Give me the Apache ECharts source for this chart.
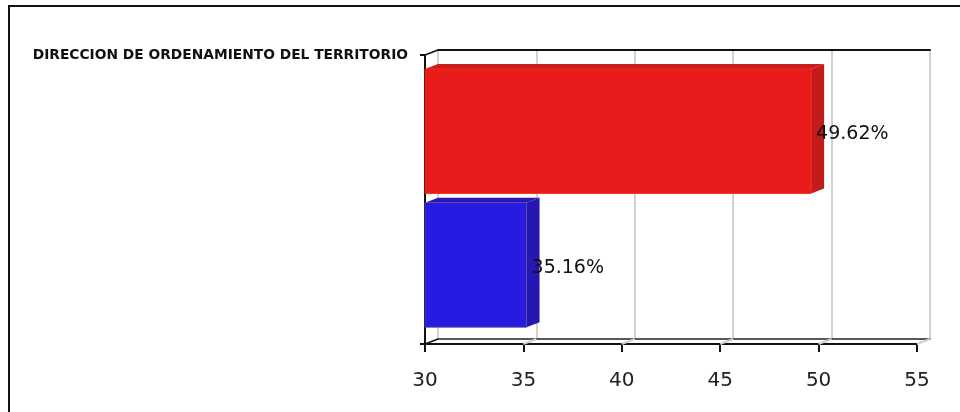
<!DOCTYPE html>
<html>
<head>
<meta charset="utf-8">
<script src="https://cdn.jsdelivr.net/npm/echarts@6/dist/echarts.min.js"></script>
<style>
  html, body { margin: 0; padding: 0; background: #fff; }
  #chart { width: 960px; height: 412px; }
</style>
</head>
<body>
<div id="chart"></div>
<script>
// ---- data ----
const categories = ['DIRECCION DE ORDENAMIENTO DEL TERRITORIO'];
const seriesRed = [49.62];
const seriesBlue = [35.16];
const xTicks = [30, 35, 40, 45, 50, 55];

// ---- layout / style constants ----
const DX = 13, DY = -5;
const FONT = 'DejaVu Sans, Verdana, sans-serif';
const barStyles = [
  { front: '#E81414', top: '#C51616', side: '#C01414', stroke: 'rgba(245,45,20,0.9)', topFrac: 0.0484 },
  { front: '#2013E0', top: '#2410B6', side: '#200FB0', stroke: 'rgba(90,80,150,0.8)', topFrac: 0.511 }
];
const H_FRAC = 0.431;
const OPACITY = 0.97;

const chart = echarts.init(document.getElementById('chart'));

function barRenderer(style) {
  return function (params, api) {
    const v = api.value(0), ci = api.value(1);
    const c = api.coord([v, ci]);
    const x0 = api.coord([xTicks[0], ci])[0];
    const band = api.size([0, 1])[1];
    const bandTop = c[1] - band / 2;
    const ft = bandTop + band * style.topFrac;
    const h = band * H_FRAC;
    const xr = c[0];
    return {
      type: 'group',
      children: [
        { type: 'polygon', shape: { points: [[x0, ft], [x0 + DX, ft + DY], [xr + DX, ft + DY], [xr, ft]] },
          style: { fill: style.top, opacity: OPACITY } },
        { type: 'polygon', shape: { points: [[xr, ft], [xr + DX, ft + DY], [xr + DX, ft + h + DY], [xr, ft + h]] },
          style: { fill: style.side, opacity: OPACITY } },
        { type: 'rect', shape: { x: x0, y: ft, width: xr - x0, height: h },
          style: { fill: style.front, stroke: style.stroke, lineWidth: 1, opacity: OPACITY } },
        { type: 'text', x: xr + 5, y: ft + h / 2 + 3,
          style: { text: v.toFixed(2) + '%', fill: '#111', font: '19px ' + FONT, textVerticalAlign: 'middle', textAlign: 'left' } }
      ]
    };
  };
}

function frameRenderer(params, api) {
  const v = api.value(0);
  const c = api.coord([v, 0]);
  const band = api.size([0, 1])[1];
  const bottom = c[1] + band / 2;
  const top = c[1] - band / 2;
  const first = params.dataIndex === 0;
  const children = [
    { type: 'line', shape: { x1: c[0], y1: bottom, x2: c[0] + DX, y2: bottom + DY },
      style: { stroke: first ? '#111' : '#cfcfcf', lineWidth: first ? 1.5 : 2 } }
  ];
  if (first) {
    children.push({ type: 'line', shape: { x1: c[0], y1: top, x2: c[0] + DX, y2: top + DY },
      style: { stroke: '#111', lineWidth: 1.5 } });
  }
  return { type: 'group', children: children };
}

const option = {
  animation: false,
  backgroundColor: '#fff',
  graphic: [
    { type: 'rect', shape: { x: 9, y: 6, width: 960, height: 420 },
      style: { fill: 'none', stroke: '#111', lineWidth: 2 }, z: 100 }
  ],
  grid: [
    { left: 425, right: 43, top: 55, bottom: 68 },
    { left: 438, right: 30, top: 50, bottom: 73 }
  ],
  xAxis: [
    { gridIndex: 0, type: 'value', min: xTicks[0], max: xTicks[xTicks.length - 1], interval: 5,
      axisLine: { show: true, onZero: false, lineStyle: { color: '#111', width: 2 } },
      axisTick: { show: true, length: 8, lineStyle: { color: '#111', width: 2 } },
      axisLabel: { fontSize: 20, color: '#222', fontFamily: FONT, margin: 27 },
      splitLine: { show: false } },
    { gridIndex: 1, type: 'value', position: 'top', min: xTicks[0], max: xTicks[xTicks.length - 1], interval: 5,
      axisLine: { show: true, onZero: false, lineStyle: { color: '#111', width: 2 } },
      axisTick: { show: false }, axisLabel: { show: false },
      splitLine: { show: true, lineStyle: { color: '#d2d2d2', width: 2 } } },
    { gridIndex: 1, type: 'value', position: 'bottom', min: xTicks[0], max: xTicks[xTicks.length - 1], interval: 5,
      axisLine: { show: true, onZero: false, lineStyle: { color: '#222', width: 1.5 } },
      axisTick: { show: false }, axisLabel: { show: false }, splitLine: { show: false } }
  ],
  yAxis: [
    { gridIndex: 0, type: 'category', data: categories, inverse: true, show: false },
    { gridIndex: 0, type: 'category', data: [categories[0], ''], boundaryGap: false, inverse: true, position: 'left',
      axisLine: { show: true, onZero: false, lineStyle: { color: '#111', width: 2 } },
      axisTick: { show: true, length: 5, lineStyle: { color: '#111', width: 2 } },
      axisLabel: { fontSize: 13.8, fontWeight: 'bold', color: '#111', fontFamily: FONT, margin: 17 },
      splitLine: { show: false } },
    { gridIndex: 1, type: 'value', show: false, min: 0, max: 1 }
  ],
  series: [
    { type: 'custom', xAxisIndex: 0, yAxisIndex: 0, renderItem: frameRenderer,
      data: xTicks.map(v => [v, 0]), encode: { x: 0, y: 1 }, z: 1, silent: true },
    { type: 'custom', name: 'Serie 1', xAxisIndex: 0, yAxisIndex: 0, renderItem: barRenderer(barStyles[0]),
      data: seriesRed.map((v, i) => [v, i]), encode: { x: 0, y: 1 }, z: 3 },
    { type: 'custom', name: 'Serie 2', xAxisIndex: 0, yAxisIndex: 0, renderItem: barRenderer(barStyles[1]),
      data: seriesBlue.map((v, i) => [v, i]), encode: { x: 0, y: 1 }, z: 3 }
  ]
};
chart.setOption(option);
</script>
</body>
</html>
